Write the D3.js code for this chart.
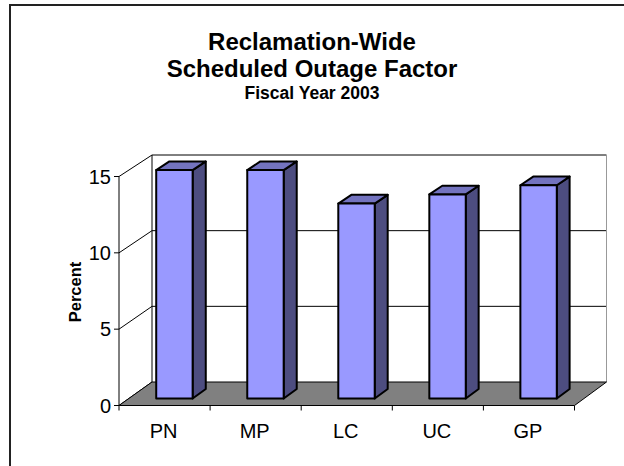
<!DOCTYPE html>
<html>
<head>
<meta charset="utf-8">
<script src="https://cdn.jsdelivr.net/npm/d3@7"></script>
<style>
  html, body { margin: 0; padding: 0; background: #fff; }
  svg { display: block; }
  text { font-family: "Liberation Sans", Arial, sans-serif; fill: #000; }
</style>
</head>
<body>
<div id="chart"></div>
<script>
// Scheduled outage factor by region, FY2003 (percent)
const categories = ["PN", "MP", "LC", "UC", "GP"];
const values = [15.0, 15.0, 12.8, 13.4, 14.0];
const yTicks = [0, 5, 10, 15];
const titleLines = ["Reclamation-Wide", "Scheduled Outage Factor"];
const subtitle = "Fiscal Year 2003";
const yAxisTitle = "Percent";

const W = 624, H = 466;
const svg = d3.select("#chart").append("svg").attr("width", W).attr("height", H);

// Outer chart frame
svg.append("rect")
  .attr("x", 10).attr("y", 5).attr("width", W + 20).attr("height", H + 20)
  .attr("fill", "#fff").attr("stroke", "#222").attr("stroke-width", 2);

// Oblique 3-D projection: front plane (depth 0) and back plane (depth 1)
const xFront = d3.scaleBand().domain(categories).range([119, 574.5]);
const xBack = d3.scaleBand().domain(categories).range([152, 606.5]);
const yFront = d3.scaleLinear().domain([0, 15]).range([405.5, 176.5]);
const yBack = d3.scaleLinear().domain([0, 15]).range([382, 155]);

// category c, fraction across its band xf, value v, depth d
function proj(c, xf, v, d) {
  const xf0 = xFront(c) + xf * xFront.bandwidth();
  const xb0 = xBack(c) + xf * xBack.bandwidth();
  return [xf0 + (xb0 - xf0) * d, yFront(v) + (yBack(v) - yFront(v)) * d];
}
const first = categories[0], last = categories[categories.length - 1];
const line = d3.line();

const g = svg.append("g");

// Left wall
g.append("path")
  .attr("d", line([proj(first, 0, 0, 0), proj(first, 0, 15, 0), proj(first, 0, 15, 1), proj(first, 0, 0, 1)]) + "Z")
  .attr("fill", "#fff").attr("stroke", "none");
// Back wall
g.append("path")
  .attr("d", line([proj(first, 0, 0, 1), proj(first, 0, 15, 1), proj(last, 1, 15, 1), proj(last, 1, 0, 1)]) + "Z")
  .attr("fill", "#fff").attr("stroke", "none");

// Gridlines on back wall and left wall
yTicks.forEach(t => {
  if (t > 0 && t < 15) {
    g.append("path")
      .attr("d", line([proj(first, 0, t, 1), proj(last, 1, t, 1)]))
      .attr("stroke", "#000").attr("stroke-width", 1).attr("fill", "none");
  }
  g.append("path")
    .attr("d", line([proj(first, 0, t, 0), proj(first, 0, t, 1)]))
    .attr("stroke", "#000").attr("stroke-width", 1).attr("fill", "none");
});
// Back wall top edge
g.append("path")
  .attr("d", line([proj(first, 0, 15, 1), proj(last, 1, 15, 1)]))
  .attr("stroke", "#000").attr("stroke-width", 1).attr("fill", "none");
// Back wall right edge
g.append("path")
  .attr("d", line([proj(last, 1, 0, 1), proj(last, 1, 15, 1)]))
  .attr("stroke", "#999").attr("stroke-width", 1).attr("fill", "none");
// Back-left vertical edge
g.append("path")
  .attr("d", line([proj(first, 0, 0, 1), proj(first, 0, 15, 1)]))
  .attr("stroke", "#000").attr("stroke-width", 1).attr("fill", "none");

// Floor
g.append("path")
  .attr("d", line([proj(first, 0, 0, 0), proj(last, 1, 0, 0), proj(last, 1, 0, 1), proj(first, 0, 0, 1)]) + "Z")
  .attr("fill", "#808080").attr("stroke", "#000").attr("stroke-width", 1);

// Value axis (front left edge)
g.append("path")
  .attr("d", line([proj(first, 0, 0, 0), proj(first, 0, 15, 0)]))
  .attr("stroke", "#000").attr("stroke-width", 1).attr("fill", "none");
yTicks.forEach(t => {
  const [x, y] = proj(first, 0, t, 0);
  g.append("line").attr("x1", x - 5).attr("x2", x).attr("y1", y).attr("y2", y)
    .attr("stroke", "#000").attr("stroke-width", 1);
  g.append("text").attr("x", x - 8).attr("y", y + 7)
    .attr("text-anchor", "end").attr("font-size", 20).text(t);
});

// Category axis ticks and labels
categories.forEach((c, i) => {
  const [x0, y0] = proj(c, 0, 0, 0);
  g.append("line").attr("x1", x0).attr("x2", x0).attr("y1", y0).attr("y2", y0 + 5)
    .attr("stroke", "#000").attr("stroke-width", 1);
  if (i === categories.length - 1) {
    const [x1, y1] = proj(c, 1, 0, 0);
    g.append("line").attr("x1", x1).attr("x2", x1).attr("y1", y1).attr("y2", y1 + 5)
      .attr("stroke", "#000").attr("stroke-width", 1);
  }
  const [xc] = proj(c, 0.5, 0, 0);
  g.append("text").attr("x", xc - 1).attr("y", y0 + 32)
    .attr("text-anchor", "middle").attr("font-size", 20).text(c);
});

// 3-D bars (front face, right side, top)
const d0 = 0.3, d1 = 0.7, b0 = 0.3, b1 = 0.7;
const bars = g.append("g");
categories.forEach((c, i) => {
  const v = values[i];
  const faces = [
    { pts: [proj(c, b1, 0, d0), proj(c, b1, 0, d1), proj(c, b1, v, d1), proj(c, b1, v, d0)], fill: "#4D4D80" },
    { pts: [proj(c, b0, v, d0), proj(c, b1, v, d0), proj(c, b1, v, d1), proj(c, b0, v, d1)], fill: "#7373BF" },
    { pts: [proj(c, b0, 0, d0), proj(c, b1, 0, d0), proj(c, b1, v, d0), proj(c, b0, v, d0)], fill: "#9999FF" }
  ];
  faces.forEach(f => {
    bars.append("path").attr("d", line(f.pts) + "Z")
      .attr("fill", f.fill).attr("stroke", "#000").attr("stroke-width", 2)
      .attr("stroke-linejoin", "round");
  });
});

// Titles
const cx = 312;
svg.append("text").attr("x", cx).attr("y", 50).attr("text-anchor", "middle")
  .attr("font-size", 24).attr("font-weight", "bold").text(titleLines[0]);
svg.append("text").attr("x", cx).attr("y", 76.5).attr("text-anchor", "middle")
  .attr("font-size", 24).attr("font-weight", "bold").text(titleLines[1]);
svg.append("text").attr("x", cx).attr("y", 98.5).attr("text-anchor", "middle")
  .attr("font-size", 17.5).attr("font-weight", "bold").text(subtitle);

// Value axis title
svg.append("text")
  .attr("transform", "translate(81,292) rotate(-90)")
  .attr("text-anchor", "middle").attr("font-size", 16.5).attr("font-weight", "bold")
  .text(yAxisTitle);
</script>
</body>
</html>
